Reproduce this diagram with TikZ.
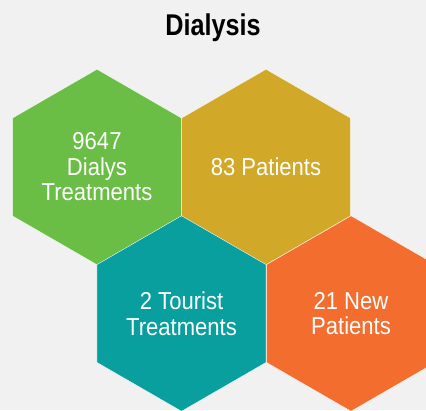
\documentclass[tikz,border=0pt]{standalone}
\usepackage{fontspec}
\setmainfont{Liberation Sans}
\newfontfamily\titlefont{Liberation Sans}[FakeStretch=0.84]
\newfontfamily\hexfont{Liberation Sans}[FakeStretch=0.9]
\usetikzlibrary{shapes.geometric}
\definecolor{bgray}{HTML}{F1F1F1}
\definecolor{hgreen}{HTML}{6ABD45}
\definecolor{hgold}{HTML}{D2A828}
\definecolor{hteal}{HTML}{089F9E}
\definecolor{horange}{HTML}{F36D2F}
\begin{document}
\begin{tikzpicture}
  [x=1pt,y=-1pt,
  hexa/.style={regular polygon,regular polygon sides=6,shape border rotate=30,
    minimum size=195.4pt,inner sep=0pt,outer sep=0pt,draw=white!60,line width=0.3pt,
    text=white,align=center,font=\hexfont\fontsize{24.5}{25.5}\selectfont},
  title/.style={font=\titlefont\bfseries\fontsize{30}{34}\selectfont,anchor=base}]
  \fill [bgray] (0,0) rectangle (426,410);
  \useasboundingbox (0,0) rectangle (426,410);
  \clip (0,0) rectangle (426,410);

  \node[title] (ttl) at (213,35) {Dialysis};

  \node[hexa,fill=hgreen] (greenhex) at (97,167) {9647\\Dialys\\Treatments};
  \node[hexa,fill=hgold] (goldhex) at (266,167) {83 Patients};
  \node[hexa,fill=hteal] (tealhex) at (181.5,313.5) {2 Tourist\\Treatments};
  \node[hexa,fill=horange] (orangehex) at (351,313.5) {21 New\\Patients};
\end{tikzpicture}
\end{document}
